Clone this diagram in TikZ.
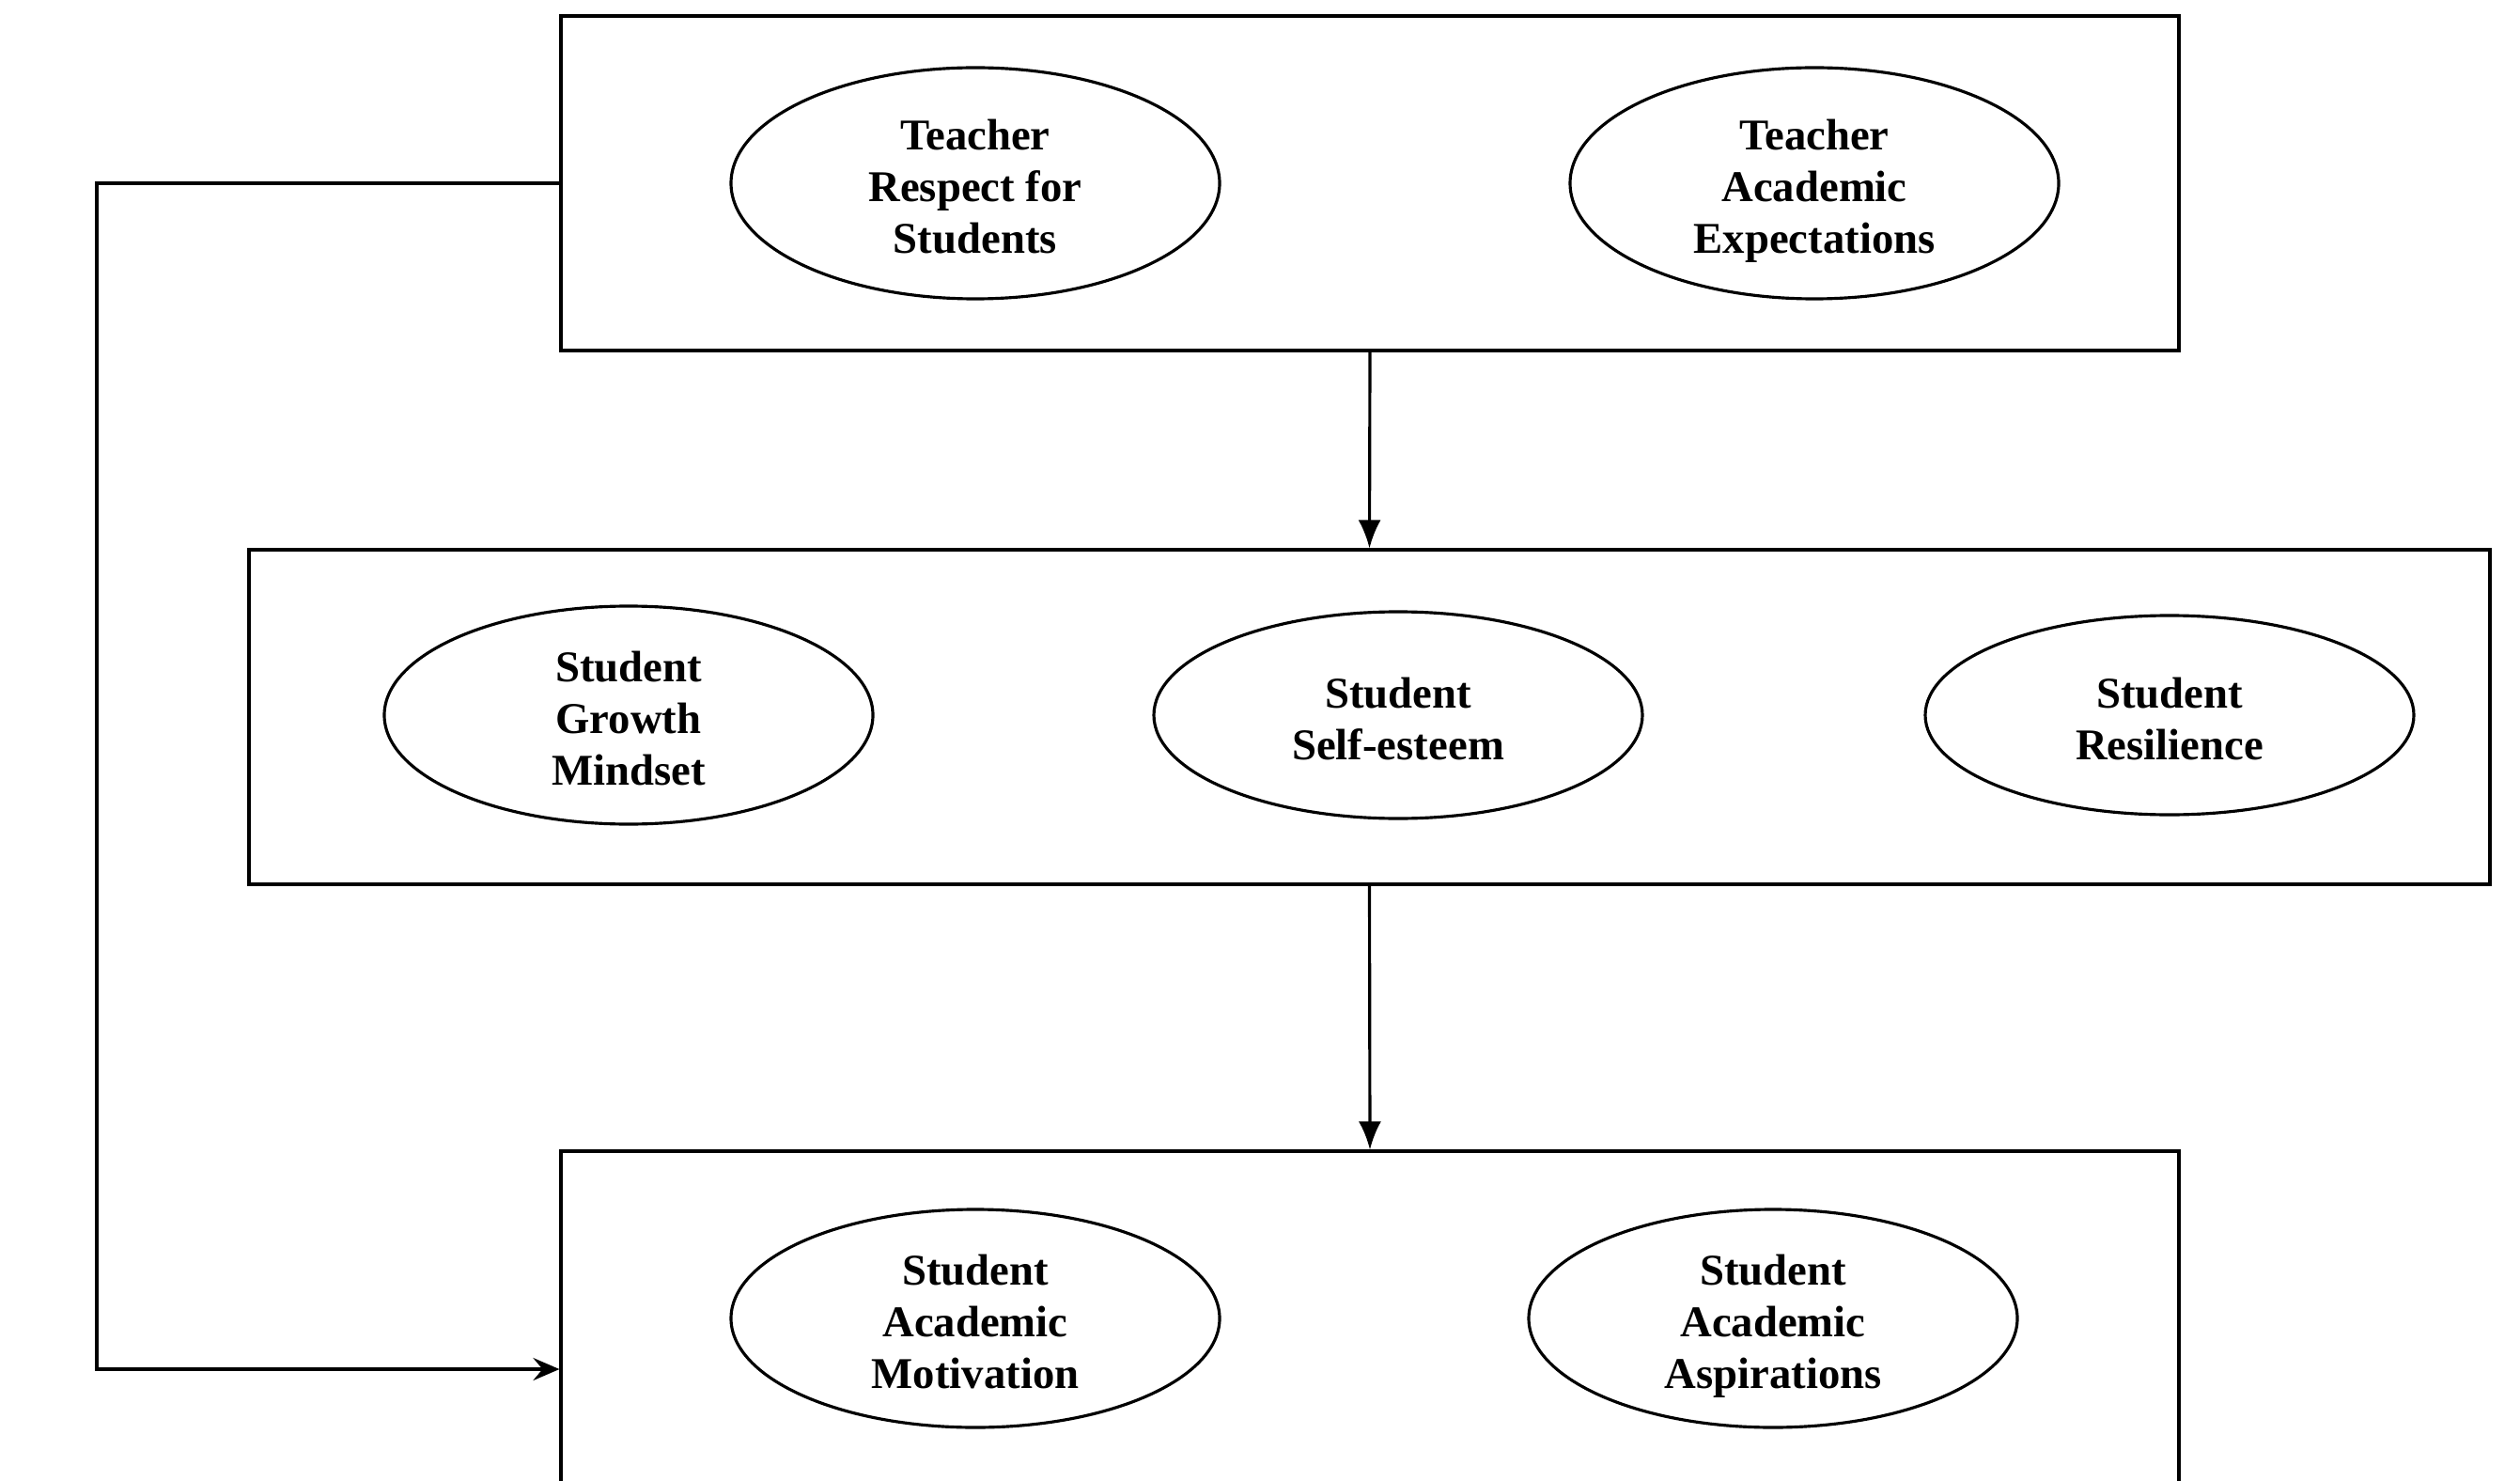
\documentclass[tikz,border=0pt]{standalone}
\usepackage{fontspec}
\setmainfont{Liberation Serif}
\usetikzlibrary{shapes.geometric,arrows.meta}
\newcommand\ftop{\rule{0pt}{11.2pt}}

\begin{document}
\begin{tikzpicture}[line width=0.9pt,
	every node/.style={font=\bfseries\fontsize{13.3}{15.6}\selectfont,align=center},
	stagebox/.style={draw,rectangle,inner sep=0pt},
	factor/.style={draw,ellipse,inner sep=0pt,minimum width=5.2cm,text depth=0pt},
	down/.style={-{Latex[length=3mm,width=2.4mm]}},
	back/.style={-{Stealth[length=2.8mm,width=2.4mm,inset=1mm]}}]
		\useasboundingbox (0,0) rectangle (26.82,15.75);
		\clip (0,0) rectangle (26.82,15.75);
			\node[stagebox,minimum width=17.22cm,minimum height=3.56cm] (T)at(14.58,13.80) {};
			\node[stagebox,minimum width=23.85cm,minimum height=3.56cm] (S)at(14.575,8.12) {};
			\node[stagebox,minimum width=17.22cm,minimum height=3.56cm] (O)at(14.58,1.72) {};
			\node[factor,minimum height=2.46cm] (respect)at(10.38,13.80) {\ftop Teacher\\Respect for\\Students};
			\node[factor,minimum height=2.46cm] (expect)at(19.31,13.80) {\ftop Teacher\\Academic\\Expectations};
			\node[factor,minimum height=2.32cm] (mindset)at(6.69,8.14) {\ftop Student\\Growth\\Mindset};
			\node[factor,minimum height=2.20cm] (esteem)at(14.88,8.14) {\ftop Student\\Self-esteem};
			\node[factor,minimum height=2.12cm] (resil)at(23.09,8.14) {\ftop Student\\Resilience};
			\node[factor,minimum height=2.32cm] (motiv)at(10.38,1.72) {\ftop Student\\Academic\\Motivation};
			\node[factor,minimum height=2.32cm] (aspir)at(18.87,1.72) {\ftop Student\\Academic\\Aspirations};
			\coordinate (c1) at (1.03,13.80);
			\coordinate (c2) at (1.03,1.18);
			\draw[down] (T.south) -- (S.north);
			\draw[down] (S.south) -- (O.north);
			\draw[back] (T.west) -- (c1) -- (c2) -- (c2 -| O.west);
		\end{tikzpicture}
\end{document}
